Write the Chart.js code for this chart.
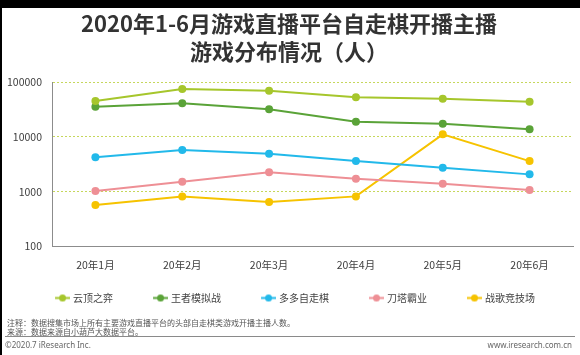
<!DOCTYPE html>
<html><head><meta charset="utf-8">
<script src="https://cdn.jsdelivr.net/npm/chart.js@4/dist/chart.umd.min.js"></script>
<style>
html,body{margin:0;padding:0;background:#fff;}
#wrap{position:relative;width:580px;height:355px;overflow:hidden;font-family:"Noto Sans CJK SC","Noto Sans",sans-serif;}
#c{position:absolute;left:0;top:0;}
.bar{position:absolute;background:#000;}
.note{position:absolute;left:7px;font-size:8px;color:#555;white-space:nowrap;line-height:9px;}
.foot{position:absolute;font-size:8px;color:#666;white-space:nowrap;font-family:"Noto Sans",sans-serif;}
#rule{position:absolute;left:5px;top:336px;width:570px;height:1px;background:#8a8a8a;}
</style></head>
<body><div id="wrap">
<canvas id="c" width="580" height="355"></canvas>
<div class="bar" style="left:0;top:0;width:580px;height:8px"></div>
<div class="bar" style="left:0;top:0;width:2px;height:355px"></div>
<div class="note" style="top:318px">注释：数据搜集市场上所有主要游戏直播平台的头部自走棋类游戏开播主播人数。</div>
<div class="note" style="top:327px">来源：数据来源自小葫芦大数据平台。</div>
<div id="rule"></div>
<div class="foot" style="left:5px;top:339px">©2020.7 iResearch Inc.</div>
<div class="foot" style="right:8px;top:339px">www.iresearch.com.cn</div>
</div>
<script>
const months = ["20年1月","20年2月","20年3月","20年4月","20年5月","20年6月"];
const yunding = [45300, 75100, 70000, 53000, 50000, 44000];
const wangzhe = [35700, 41100, 31900, 19000, 17400, 13800];
const duoduo = [4240, 5770, 4930, 3620, 2730, 2070];
const daota = [1025, 1517, 2255, 1720, 1394, 1070];
const zhange = [569, 820, 645, 820, 11160, 3620];
const yTicks = [100, 1000, 10000, 100000];
const seriesNames = ["云顶之弈","王者模拟战","多多自走棋","刀塔霸业","战歌竞技场"];
const seriesColors = ["#a6c62c","#5aa338","#22b9ea","#ee8f95","#f6c300"];
const seriesData = [yunding, wangzhe, duoduo, daota, zhange];

const LEG_W = 43;
function legendIcon(color){
  const cv = document.createElement('canvas');
  cv.width = LEG_W + 4; cv.height = 9;
  const g = cv.getContext('2d');
  const x0 = cv.width - 15, x1 = cv.width;
  g.strokeStyle = color; g.lineWidth = 2;
  g.beginPath(); g.moveTo(x0, 4.5); g.lineTo(x1, 4.5); g.stroke();
  g.fillStyle = color;
  g.beginPath(); g.arc((x0 + x1) / 2, 4.5, 3.5, 0, Math.PI * 2); g.fill();
  return cv;
}
const icons = seriesColors.map(legendIcon);

const legendShift = {
  id: 'legendShift',
  afterLayout(chart) {
    if (chart.legend) { chart.legend.left -= 9; chart.legend.right -= 9; }
  }
};

new Chart(document.getElementById('c'), {
  type: 'line',
  plugins: [legendShift],
  data: {
    labels: months,
    datasets: seriesNames.map((n, i) => ({
      label: n,
      data: seriesData[i],
      borderColor: seriesColors[i],
      backgroundColor: seriesColors[i],
      pointBackgroundColor: seriesColors[i],
      pointBorderWidth: 0,
      pointRadius: 4,
      borderWidth: 2,
      tension: 0
    }))
  },
  options: {
    responsive: false,
    animation: false,
    devicePixelRatio: 1,
    layout: { padding: { top: 0, left: 5, right: 7, bottom: 42 } },
    plugins: {
      title: {
        display: true,
        text: ["2020年1-6月游戏直播平台自走棋开播主播", "游戏分布情况（人）"],
        color: "#333",
        font: { family: "'Noto Sans CJK SC'", size: 22, weight: 'bold', lineHeight: 1.3 },
        padding: { top: 9, bottom: 16 }
      },
      legend: {
        position: 'bottom',
        labels: {
          usePointStyle: true,
          pointStyleWidth: LEG_W,
          padding: 10,
          color: "#444",
          font: { family: "'Noto Sans CJK SC'", size: 10 },
          generateLabels(chart) {
            const items = Chart.defaults.plugins.legend.labels.generateLabels(chart);
            items.forEach((it, i) => { it.pointStyle = icons[i]; });
            return items;
          }
        }
      },
      tooltip: { enabled: false }
    },
    scales: {
      x: {
        offset: true,
        grid: { display: false, drawTicks: false },
        border: { display: true, color: "#8c8c8c", width: 1 },
        ticks: { color: "#404040", padding: 12, font: { family: "'Noto Sans CJK SC'", size: 10.5 } }
      },
      y: {
        type: 'logarithmic',
        min: 100, max: 100000,
        afterBuildTicks(scale) { scale.ticks = yTicks.map(v => ({ value: v })); },
        afterFit(scale) { scale.width = 47; },
        grid: {
          drawTicks: false,
          color: ctx => (ctx.tick && ctx.tick.value === 100) ? 'rgba(0,0,0,0)' : '#c6d75c',
          lineWidth: 1,
          borderDash: [2, 2]
        },
        border: { display: true, color: "#8c8c8c", width: 1, dash: [2, 2] },
        ticks: {
          color: "#404040", padding: 10,
          font: { family: "'Noto Sans CJK SC'", size: 10.5 },
          callback: v => String(v)
        }
      }
    }
  }
});
</script>
</body></html>
